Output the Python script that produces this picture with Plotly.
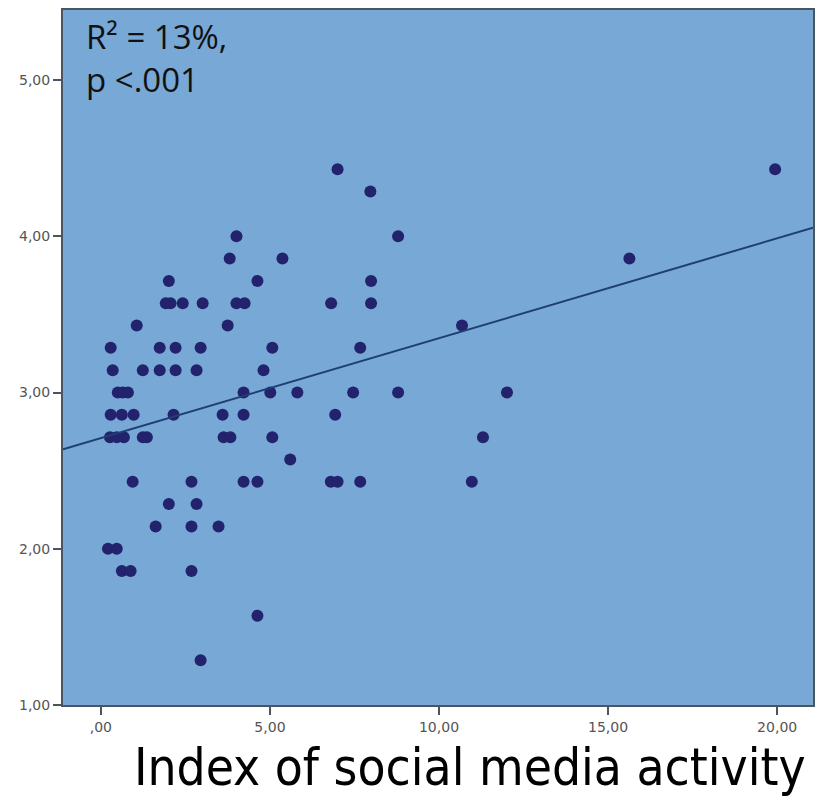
import numpy as np
import plotly.graph_objects as go

# Scale score is the mean of 7 items, so every y value is k/7.
# Each list holds the social-media-activity index values at one score level.
score_31 = [7.0, 19.94]
score_30 = [7.97]
score_28 = [4.01, 8.79]
score_27 = [3.81, 5.37, 15.63]
score_26 = [2.01, 4.63, 7.99]
score_25 = [1.92, 2.06, 2.42, 3.01, 4.01, 4.25, 6.81, 7.99]
score_24 = [1.06, 3.75, 10.68]
score_23 = [0.29, 1.74, 2.21, 2.95, 5.07, 7.67]
score_22 = [0.35, 1.24, 1.74, 2.21, 2.83, 4.81]
score_21 = [0.5, 0.65, 0.8, 4.22, 5.01, 5.81, 7.46, 8.79, 12.01]
score_20 = [0.29, 0.62, 0.97, 2.15, 3.6, 4.22, 6.93]
score_19 = [0.27, 0.47, 0.68, 1.24, 1.36, 3.63, 3.83, 5.07, 11.3]
score_18 = [5.6]
score_17 = [0.94, 2.68, 4.22, 4.63, 6.8, 7.0, 7.67, 10.97]
score_16 = [2.01, 2.83]
score_15 = [1.62, 2.68, 3.48]
score_14 = [0.21, 0.47]
score_13 = [0.62, 0.88, 2.68]
score_11 = [4.63]
score_9 = [2.95]

groups = {
    31: score_31, 30: score_30, 28: score_28, 27: score_27, 26: score_26,
    25: score_25, 24: score_24, 23: score_23, 22: score_22, 21: score_21,
    20: score_20, 19: score_19, 18: score_18, 17: score_17, 16: score_16,
    15: score_15, 14: score_14, 13: score_13, 11: score_11, 9: score_9,
}

x_vals = []
y_vals = []
for k, xs in groups.items():
    for xv in xs:
        x_vals.append(xv)
        y_vals.append(k / 7)
x_vals = np.array(x_vals)
y_vals = np.array(y_vals)

x_tick_vals = [0, 5, 10, 15, 20]
x_tick_text = [",00", "5,00", "10,00", "15,00", "20,00"]
y_tick_vals = [1, 2, 3, 4, 5]
y_tick_text = ["1,00", "2,00", "3,00", "4,00", "5,00"]

x_range = [-1.12, 21.06]
y_range = [1.0, 5.448]

# Least-squares fit line across the full x range
slope, intercept = np.polyfit(x_vals, y_vals, 1)
fit_x = np.array(x_range)
fit_y = intercept + slope * fit_x

fig = go.Figure()
fig.add_trace(go.Scatter(
    x=x_vals, y=y_vals, mode="markers",
    marker=dict(size=12, color="#23226d", line=dict(width=0)),
    showlegend=False, hoverinfo="skip",
))
fig.add_trace(go.Scatter(
    x=fit_x, y=fit_y, mode="lines",
    line=dict(color="#1f3f73", width=2),
    showlegend=False, hoverinfo="skip",
))

axis_common = dict(
    showgrid=False, zeroline=False,
    showline=True, linecolor="#4a5560", linewidth=2, mirror=True,
    ticks="outside", ticklen=8, tickwidth=2, tickcolor="#4a5560",
    tickfont=dict(family="DejaVu Sans, sans-serif", size=14, color="#555555"),
)

fig.update_xaxes(range=x_range, tickvals=x_tick_vals, ticktext=x_tick_text, **axis_common)
fig.update_yaxes(range=y_range, tickvals=y_tick_vals, ticktext=y_tick_text, **axis_common)

fig.add_annotation(
    text="R² = 13%,<br>p <.001",
    xref="paper", yref="paper", x=0.028, y=0.997,
    xanchor="left", yanchor="top", align="left", showarrow=False,
    font=dict(family="Open Sans, DejaVu Sans, sans-serif", size=33, color="#111111"),
)
fig.add_annotation(
    text="Index of social media activity",
    xref="paper", yref="paper", x=0.542, y=-0.09,
    xanchor="center", yanchor="middle", showarrow=False,
    font=dict(family="Liberation Sans Narrow, DejaVu Sans Condensed, sans-serif", size=51, color="#000000"),
)

fig.update_layout(
    width=817, height=800,
    margin=dict(l=63, r=2, t=10, b=95),
    paper_bgcolor="white",
    plot_bgcolor="#78a8d6",
)

fig.write_html("out.html")
